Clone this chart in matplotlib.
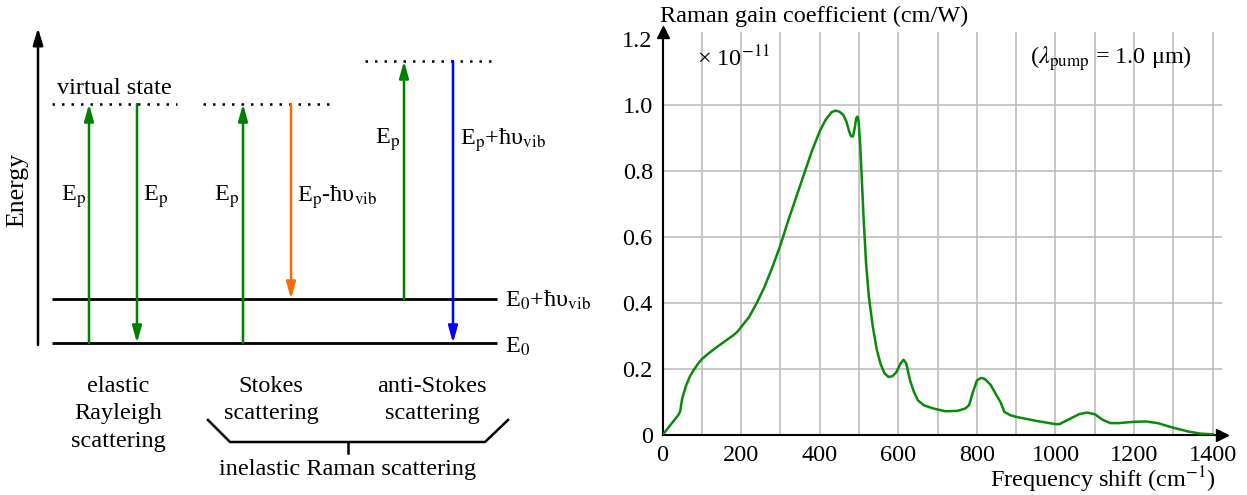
import numpy as np
import matplotlib.pyplot as plt

plt.rcParams['font.family'] = ['Liberation Serif', 'DejaVu Serif']
plt.rcParams['mathtext.fontset'] = 'stix'

# Raman gain spectrum of fused silica
shift = [0, 10, 20, 30, 40, 45, 50, 55, 60, 70, 80, 90, 100, 120, 140, 160, 180,
         190, 200, 220, 240, 260, 280, 300, 320, 340, 360, 380, 400, 415, 430,
         440, 450, 460, 468, 475, 480, 485, 489, 493, 496, 499, 503, 507, 512,
         518, 525, 535, 545, 555, 565, 575, 585, 595, 605, 613, 620, 630, 640,
         650, 665, 690, 720, 750, 770, 780, 790, 800, 810, 820, 835, 850, 860,
         870, 885, 900, 950, 1000, 1010, 1030, 1060, 1080, 1100, 1120, 1140,
         1160, 1200, 1230, 1260, 1300, 1340, 1370, 1400]
gain = [0.0, 0.015, 0.03, 0.045, 0.06, 0.072, 0.11, 0.13, 0.15, 0.178, 0.198,
        0.215, 0.23, 0.25, 0.268, 0.285, 0.302, 0.312, 0.327, 0.357, 0.40,
        0.45, 0.51, 0.575, 0.65, 0.72, 0.79, 0.86, 0.92, 0.955, 0.978, 0.983,
        0.98, 0.97, 0.95, 0.92, 0.905, 0.905, 0.93, 0.96, 0.965, 0.95, 0.88,
        0.78, 0.65, 0.52, 0.42, 0.33, 0.26, 0.215, 0.187, 0.176, 0.178, 0.19,
        0.215, 0.228, 0.218, 0.165, 0.13, 0.105, 0.09, 0.08, 0.072, 0.073,
        0.08, 0.09, 0.13, 0.165, 0.173, 0.17, 0.152, 0.12, 0.10, 0.07, 0.06,
        0.055, 0.043, 0.033, 0.033, 0.045, 0.063, 0.068, 0.063, 0.046, 0.036,
        0.036, 0.04, 0.041, 0.036, 0.022, 0.01, 0.004, 0.002]
x_ticks = [0, 200, 400, 600, 800, 1000, 1200, 1400]
y_ticks = [0, 0.2, 0.4, 0.6, 0.8, 1.0, 1.2]
y_tick_labels = ['0', '0.2', '0.4', '0.6', '0.8', '1.0', '1.2']

# energy diagram (left panel, in pixel-like units)
level_e0 = 343
level_vib = 299
virtual_low = 104
virtual_high = 61
level_x = (52, 497)
virtual_segments = [(52, 177, virtual_low), (203, 330, virtual_low),
                    (365, 497, virtual_high)]
transitions = [  # x, start, end, colour
    (89, level_e0, virtual_low, 'green'),
    (137, virtual_low, level_e0, 'green'),
    (243, level_e0, virtual_low, 'green'),
    (291, virtual_low, level_vib, '#ff6a00'),
    (404, level_vib, virtual_high, 'green'),
    (453, virtual_high, level_e0, '#0000ff'),
]
transition_labels = [
    (61, 197, r'E$_\mathrm{p}$'),
    (143, 197, r'E$_\mathrm{p}$'),
    (214, 197, r'E$_\mathrm{p}$'),
    (297, 197, r'E$_\mathrm{p}$-ħυ$_\mathrm{vib}$'),
    (375, 140, r'E$_\mathrm{p}$'),
    (460, 140, r'E$_\mathrm{p}$+ħυ$_\mathrm{vib}$'),
]
process_labels = [
    (118, 'elastic\nRayleigh\nscattering'),
    (271, 'Stokes\nscattering'),
    (432, 'anti-Stokes\nscattering'),
]

FS = 17.5

fig = plt.figure(figsize=(12.47, 4.95), dpi=100)

# ---- left: scattering diagram
axl = fig.add_axes([0, 0, 600 / 1247, 1])
axl.set_xlim(0, 600)
axl.set_ylim(495, 0)
axl.axis('off')

axl.annotate('', xy=(38, 28), xytext=(38, level_e0 + 2),
             arrowprops=dict(arrowstyle='-|>,head_length=1.0,head_width=0.3',
                             color='black', lw=1.8, shrinkA=0, shrinkB=0))
axl.text(17, 190, 'Energy', rotation=90, ha='center', va='center', fontsize=FS + 1)

for y in (level_e0, level_vib):
    axl.plot(level_x, [y, y], color='black', lw=2.0, solid_capstyle='butt')
axl.text(505, level_e0 + 4, r'E$_0$', ha='left', va='center', fontsize=FS)
axl.text(505, level_vib + 1, r'E$_0$+ħυ$_\mathrm{vib}$', ha='left', va='center',
         fontsize=FS)

for x0, x1, y in virtual_segments:
    axl.plot([x0, x1], [y, y], color='black', lw=1.8, ls=(0, (1, 2.8)))
axl.text(57, 88, 'virtual state', ha='left', va='center', fontsize=FS)

for x, y0, y1, c in transitions:
    axl.annotate('', xy=(x, y1), xytext=(x, y0),
                 arrowprops=dict(arrowstyle='-|>,head_length=1.0,head_width=0.28',
                                 color=c, lw=1.8, shrinkA=0, shrinkB=0))
for x, y, s in transition_labels:
    axl.text(x, y, s, ha='left', va='center', fontsize=FS)

for x, s in process_labels:
    axl.text(x, 376, s, ha='center', va='top', fontsize=FS, linespacing=1.4)

# bracket for inelastic Raman scattering
axl.plot([208, 230, 485, 508], [420, 442, 442, 420], color='black', lw=1.8)
axl.plot([348, 348], [442, 453], color='black', lw=1.8)
axl.text(348, 469, 'inelastic Raman scattering', ha='center', va='center',
         fontsize=FS)

# ---- right: Raman gain spectrum
ax = fig.add_axes([662.5 / 1247, 60 / 495, 559.6 / 1247, 402.6 / 495])
ax.set_xlim(0, 1424)
ax.set_ylim(0, 1.22)
for xv in range(100, 1500, 100):
    ax.axvline(xv, color='#bdbdbd', lw=1.2, zorder=0)
for yv in [0.2, 0.4, 0.6, 0.8, 1.0]:
    ax.axhline(yv, color='#bdbdbd', lw=1.2, zorder=0)

ax.plot(shift, gain, color='#0a8a0a', lw=1.8, zorder=3)

for side in ('top', 'right'):
    ax.spines[side].set_visible(False)
for side in ('left', 'bottom'):
    ax.spines[side].set_linewidth(1.5)
ax.plot(1, 0, '>', color='black', ms=9, transform=ax.get_yaxis_transform(),
        clip_on=False)
ax.plot(0, 1, '^', color='black', ms=9, transform=ax.get_xaxis_transform(),
        clip_on=False)

ax.set_xticks(x_ticks)
ax.set_yticks(y_ticks)
ax.set_yticklabels(y_tick_labels)
ax.tick_params(length=0, labelsize=FS, pad=7)

fig.text(660 / 1247, 1 - 16 / 495, 'Raman gain coefficient (cm/W)', ha='left',
         va='center', fontsize=FS)
ax.text(88, 1.14, r'× 10$^{-11}$', ha='left', va='center', fontsize=FS)
ax.text(935, 1.14, r'($\lambda_\mathrm{pump}$ = 1.0 μm)', ha='left', va='center',
        fontsize=FS)
fig.text(1216 / 1247, 1 - 480 / 495, r'Frequency shift (cm$^{-1}$)', ha='right',
         va='center', fontsize=FS)

fig.savefig('out.png', dpi=100)
